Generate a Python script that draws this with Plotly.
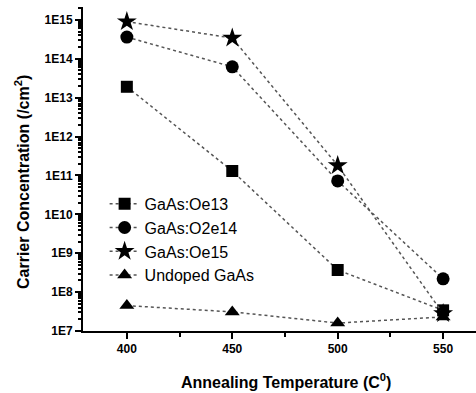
import plotly.graph_objects as go

temps = [400, 450, 500, 550]
oe13 = [1.9e13, 1.3e11, 3.7e8, 3.4e7]
o2e14 = [3.6e14, 6.2e13, 7.2e10, 2.2e8]
oe15 = [9.0e14, 3.4e14, 1.8e11, 2.8e7]
undoped = [4.5e7, 3.1e7, 1.6e7, 2.3e7]

names = ["GaAs:Oe13", "GaAs:O2e14", "GaAs:Oe15", "Undoped GaAs"]
series = [oe13, o2e14, oe15, undoped]
symbols = ["square", "circle", "star", "triangle-up"]
sizes = [12, 13, 15, 13]

ytick_vals = [10**k for k in range(7, 16)]
ytick_text = ["1E%d" % k for k in range(7, 16)]
xtick_vals = [400, 450, 500, 550]
xminor_vals = [425, 475, 525]
yminor_vals = [m * 10**k for k in range(7, 16) for m in range(2, 10) if m * 10**k < 2.1e15]

fig = go.Figure()
for nm, ys, sym, sz in zip(names, series, symbols, sizes):
    fig.add_trace(go.Scatter(
        x=temps, y=ys, name=nm, mode="lines+markers",
        line=dict(color="#555555", width=1.5, dash="dot"),
        marker=dict(symbol=sym, size=sz, color="black"),
    ))

# invisible helper trace so the overlaid minor-tick axis is drawn
fig.add_trace(go.Scatter(x=temps, y=oe13, yaxis="y2", mode="lines",
                         line=dict(width=0), opacity=0, showlegend=False,
                         hoverinfo="skip"))

font_family = "Arial, Liberation Sans, sans-serif"

fig.update_layout(
    template="none",
    width=476, height=393,
    margin=dict(l=83, r=0, t=7, b=62),
    paper_bgcolor="white", plot_bgcolor="white",
    font=dict(family=font_family, color="black"),
    showlegend=True,
    legend=dict(x=0.055, y=0.445, xanchor="left", yanchor="top",
                bgcolor="rgba(0,0,0,0)", font=dict(size=16, family=font_family),
                itemwidth=30, tracegroupgap=0),
    xaxis=dict(
        range=[379.2, 565.6], tickmode="array", tickvals=xtick_vals,
        ticks="outside", ticklen=6, tickwidth=2, tickcolor="black",
        showline=True, linecolor="black", linewidth=2,
        showgrid=False, zeroline=False,
        tickfont=dict(size=12, family=font_family, weight="bold"),
        minor=dict(tickmode="array", tickvals=xminor_vals, ticks="outside",
                   ticklen=4, tickwidth=1.5, tickcolor="black", showgrid=False),
    ),
    yaxis=dict(
        type="log", range=[7, 15.33], tickmode="array", tickvals=ytick_vals,
        ticktext=ytick_text, ticks="outside", ticklen=6, tickwidth=2,
        tickcolor="black", showline=True, linecolor="black", linewidth=2,
        showgrid=False, zeroline=False,
        tickfont=dict(size=12, family=font_family, weight="bold"),
    ),
    yaxis2=dict(
        type="log", range=[7, 15.33], overlaying="y", side="left",
        tickmode="array", tickvals=yminor_vals, ticks="outside", ticklen=4,
        tickwidth=1.5, tickcolor="black", showticklabels=False, showgrid=False,
        zeroline=False, showline=False,
    ),
    annotations=[
        dict(text="Annealing Temperature (C<sup>0</sup>)", xref="paper", yref="paper",
             x=(286 - 83) / 393, y=-(381 - 331) / 324, xanchor="center", yanchor="middle",
             showarrow=False, font=dict(size=16, family=font_family, weight="bold")),
        dict(text="Carrier Concentration (/cm<sup>2</sup>)", xref="paper", yref="paper",
             x=-(83 - 22) / 393, y=(331 - 182) / 324, xanchor="center", yanchor="middle",
             textangle=-90, showarrow=False,
             font=dict(size=16, family=font_family, weight="bold")),
    ],
)

fig.write_html("out.html")
